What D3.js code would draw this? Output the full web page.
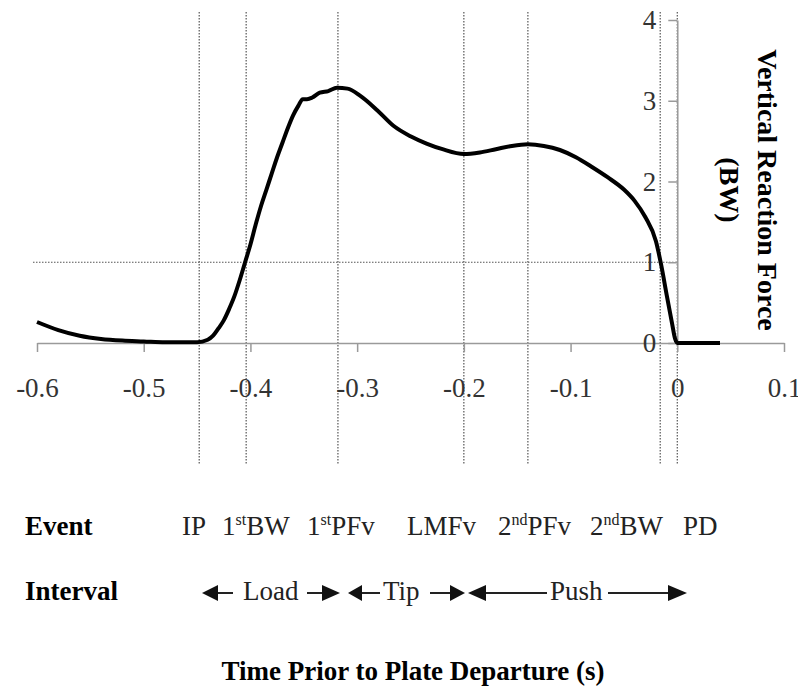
<!DOCTYPE html>
<html>
<head>
<meta charset="utf-8">
<script src="https://cdn.jsdelivr.net/npm/d3@7/dist/d3.min.js"></script>
<style>
  html, body { margin: 0; padding: 0; background: #fff; }
  svg { display: block; }
  text { font-family: "Liberation Serif", "Times New Roman", serif; }
</style>
</head>
<body>
<svg id="chart" width="798" height="690"></svg>
<script>
// ---- data ----
const time = [-0.60,-0.58,-0.56,-0.54,-0.52,-0.50,-0.48,-0.46,-0.45,-0.44,-0.435,-0.43,-0.425,-0.42,-0.415,-0.41,-0.405,-0.40,-0.395,-0.39,-0.385,-0.38,-0.375,-0.37,-0.365,-0.36,-0.355,-0.351,-0.347,-0.342,-0.335,-0.327,-0.319,-0.309,-0.297,-0.281,-0.266,-0.25,-0.235,-0.22,-0.20,-0.185,-0.17,-0.155,-0.14,-0.125,-0.11,-0.095,-0.08,-0.065,-0.05,-0.04,-0.03,-0.02,-0.015,-0.01,-0.005,-0.002,0,0.04];
const force = [0.26,0.16,0.09,0.05,0.03,0.02,0.01,0.01,0.01,0.04,0.09,0.18,0.28,0.42,0.58,0.78,1.00,1.22,1.47,1.70,1.90,2.10,2.30,2.48,2.66,2.82,2.94,3.02,3.02,3.04,3.10,3.12,3.16,3.15,3.06,2.88,2.69,2.56,2.47,2.40,2.34,2.36,2.40,2.44,2.46,2.44,2.39,2.30,2.18,2.05,1.90,1.76,1.56,1.26,0.96,0.60,0.25,0.05,0,0];
const eventNames = ["IP","1stBW","1stPFv","LMFv","2ndPFv","2ndBW","PD"];
const eventTimes = [-0.448,-0.404,-0.318,-0.200,-0.140,-0.016,0.0];
const xTicks = [-0.6,-0.5,-0.4,-0.3,-0.2,-0.1,0,0.1];
const xTickLabels = ["-0.6","-0.5","-0.4","-0.3","-0.2","-0.1","0","0.1"];
const yTicks = [0,1,2,3,4];
const yTickLabels = ["0","1","2","3","4"];
const bwLevel = 1;
const intervalNames = ["Load","Tip","Push"];

// ---- layout ----
const svg = d3.select("#chart");
const x = d3.scaleLinear().domain([-0.6, 0.1]).range([37, 784]);
const y = d3.scaleLinear().domain([0, 4]).range([343, 20]);
const gray = "#9a9a9a";
const dotColor = "#555";

// vertical event lines
svg.append("g").selectAll("line").data(eventTimes).join("line")
  .attr("x1", d => x(d)).attr("x2", d => x(d))
  .attr("y1", 12).attr("y2", 465)
  .attr("stroke", dotColor).attr("stroke-width", 1.2)
  .attr("stroke-dasharray", "1.5,1.5");

// horizontal BW line
svg.append("line")
  .attr("x1", 33).attr("x2", x(0))
  .attr("y1", y(bwLevel)).attr("y2", y(bwLevel))
  .attr("stroke", dotColor).attr("stroke-width", 1.2)
  .attr("stroke-dasharray", "1.5,1.5");

// x axis
const xAxis = svg.append("g").attr("transform", `translate(0,${y(0)})`)
  .call(d3.axisBottom(x).tickValues(xTicks).tickSize(9).tickSizeOuter(0).tickPadding(26)
    .tickFormat((d, i) => xTickLabels[i]));
xAxis.select(".domain").attr("stroke", gray).attr("stroke-width", 1.5);
xAxis.selectAll(".tick line").attr("stroke", gray).attr("stroke-width", 1.5);
xAxis.selectAll(".tick text").attr("font-size", 27).attr("fill", "#333")
  .attr("font-family", "Liberation Serif, serif");

// y axis
const yAxis = svg.append("g").attr("transform", `translate(${x(0)},0)`)
  .call(d3.axisLeft(y).tickValues(yTicks).tickSize(9).tickSizeOuter(0).tickPadding(12)
    .tickFormat((d, i) => yTickLabels[i]));
yAxis.select(".domain").attr("stroke", gray).attr("stroke-width", 1.5);
yAxis.selectAll(".tick line").attr("stroke", gray).attr("stroke-width", 1.5);
yAxis.selectAll(".tick text").attr("font-size", 27).attr("fill", "#333")
  .attr("font-family", "Liberation Serif, serif");

// curve
const pts = time.map((t, i) => [t, force[i]]);
svg.append("path").datum(pts)
  .attr("fill", "none").attr("stroke", "#000").attr("stroke-width", 4)
  .attr("stroke-linejoin", "round")
  .attr("d", d3.line().x(d => x(d[0])).y(d => y(d[1])).curve(d3.curveMonotoneX));

// y axis title
svg.append("text").attr("transform", "translate(758,190) rotate(90)")
  .attr("text-anchor", "middle").attr("font-size", 28).attr("font-weight", "bold")
  .text("Vertical Reaction Force");
svg.append("text").attr("transform", "translate(720,190) rotate(90)")
  .attr("text-anchor", "middle").attr("font-size", 28).attr("font-weight", "bold")
  .text("(BW)");

// Event row
svg.append("text").attr("x", 25).attr("y", 535).attr("font-size", 27)
  .attr("font-weight", "bold").text("Event");
const eventX = [182, 222, 307, 407, 498, 590, 683];
eventNames.forEach((name, i) => {
  const m = name.match(/^(\d)(st|nd)(.*)$/);
  const t = svg.append("text").attr("x", eventX[i]).attr("y", 535)
    .attr("font-size", 27).attr("fill", "#222");
  if (m) {
    t.append("tspan").text(m[1]);
    t.append("tspan").attr("font-size", 16).attr("dy", -10).text(m[2]);
    t.append("tspan").attr("dy", 10).text(m[3]);
  } else {
    t.text(name);
  }
});

// Interval row
svg.append("text").attr("x", 25).attr("y", 600).attr("font-size", 27)
  .attr("font-weight", "bold").text("Interval");
const ay = 593;
const intervalTextX = [243, 383, 550];
// arrows: [leftTip, leftBase, leftLineEnd, rightLineStart, rightBase, rightTip]
const arrowGeom = [
  [202, 218, 233, 307, 322, 340],
  [348, 362, 380, 430, 450, 465],
  [468, 486, 547, 608, 668, 687]
];
const ag = svg.append("g");
arrowGeom.forEach((a, i) => {
  ag.append("path").attr("d", `M${a[0]},${ay} L${a[1]},${ay-8} L${a[1]},${ay+8} Z`).attr("fill", "#111");
  ag.append("line").attr("x1", a[1]).attr("x2", a[2]).attr("y1", ay).attr("y2", ay)
    .attr("stroke", "#222").attr("stroke-width", 2);
  ag.append("line").attr("x1", a[3]).attr("x2", a[4]).attr("y1", ay).attr("y2", ay)
    .attr("stroke", "#222").attr("stroke-width", 2);
  ag.append("path").attr("d", `M${a[5]},${ay} L${a[4]},${ay-8} L${a[4]},${ay+8} Z`).attr("fill", "#111");
  svg.append("text").attr("x", intervalTextX[i]).attr("y", 600).attr("font-size", 27)
    .attr("fill", "#222").text(intervalNames[i]);
});

// x axis title
svg.append("text").attr("x", 413).attr("y", 680).attr("text-anchor", "middle")
  .attr("font-size", 27).attr("font-weight", "bold")
  .text("Time Prior to Plate Departure (s)");
</script>
</body>
</html>
